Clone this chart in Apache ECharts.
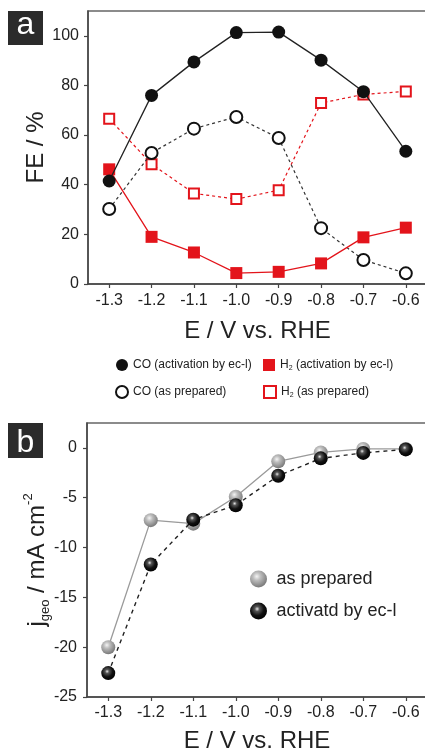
<!DOCTYPE html>
<html>
<head>
<meta charset="utf-8">
<script src="https://cdn.jsdelivr.net/npm/echarts@6/dist/echarts.min.js"></script>
<style>
html,body{margin:0;padding:0;background:#fff;}
#c{width:425px;height:752px;}
</style>
</head>
<body>
<div id="c"></div>
<script>
const xValues = [-1.3, -1.2, -1.1, -1.0, -0.9, -0.8, -0.7, -0.6];
const coActivated = [41.5, 76, 89.5, 101.3, 101.5, 90.2, 77.5, 53.5];
const coPrepared = [30.2, 52.8, 62.6, 67.3, 58.8, 22.5, 9.7, 4.3];
const h2Activated = [46.2, 19, 12.7, 4.4, 4.9, 8.3, 18.8, 22.7];
const h2Prepared = [66.6, 48.3, 36.5, 34.2, 37.8, 72.9, 76.4, 77.6];
const jPrepared = [-20, -7.25, -7.6, -4.9, -1.35, -0.45, -0.1, -0.1];
const jActivated = [-22.6, -11.7, -7.2, -5.75, -2.8, -1.05, -0.5, -0.15];
const xTicks = [-1.3, -1.2, -1.1, -1.0, -0.9, -0.8, -0.7, -0.6];
const feTicks = [0, 20, 40, 60, 80, 100];
const jTicks = [-25, -20, -15, -10, -5, 0];
const jMinorTicks = [-22.5, -17.5, -12.5, -7.5, -2.5];

const FONT = 'Liberation Sans, Arial, Helvetica, sans-serif';
const RED = '#e3141b';
const toPts = arr => xValues.map((x, i) => [x, arr[i]]);

const greySphere = {type:'radial', x:0.4, y:0.35, r:0.65, colorStops:[
  {offset:0, color:'#f4f4f4'}, {offset:0.35, color:'#bdbdbd'}, {offset:1, color:'#7a7a7a'}]};
const blackSphere = {type:'radial', x:0.42, y:0.38, r:0.65, colorStops:[
  {offset:0, color:'#e8e8e8'}, {offset:0.22, color:'#555'}, {offset:0.6, color:'#111'}, {offset:1, color:'#000'}]};

function xAxis(gridIndex, margin, nameGap) {
  return {
    type:'value', gridIndex, min:-1.35, max:-0.55,
    name:'E / V vs. RHE', nameLocation:'middle', nameGap, nameMoveOverlap:false,
    nameTextStyle:{fontFamily:FONT, fontSize:24, color:'#222'},
    axisLine:{show:true, onZero:false, lineStyle:{color:'#444', width:1.5}},
    axisTick:{show:true, inside:false, length:4, customValues:xTicks, lineStyle:{color:'#444', width:1.2}},
    axisLabel:{customValues:xTicks, margin, fontFamily:FONT, fontSize:16, color:'#222',
      formatter: v => v.toFixed(1)},
    splitLine:{show:false}
  };
}

const option = {
  animation:false,
  backgroundColor:'#fff',
  grid:[
    {left:88, top:11, right:-2, bottom:468, outerBoundsMode:'none', show:true, borderColor:'#666', borderWidth:1.5, backgroundColor:'transparent'},
    {left:87, top:423, right:-2, bottom:55, outerBoundsMode:'none', show:true, borderColor:'#666', borderWidth:1.5, backgroundColor:'transparent'}
  ],
  xAxis:[ xAxis(0, 9, 35), xAxis(1, 8, 32) ],
  yAxis:[
    {type:'value', gridIndex:0, min:0, max:110,
      name:'FE / %', nameLocation:'middle', nameGap:40, nameMoveOverlap:false,
      nameTextStyle:{fontFamily:FONT, fontSize:24, color:'#222'},
      axisLine:{show:true, lineStyle:{color:'#444', width:1.5}},
      axisTick:{show:true, length:4, customValues:feTicks, lineStyle:{color:'#444', width:1.2}},
      axisLabel:{customValues:feTicks, margin:9, fontFamily:FONT, fontSize:16, color:'#222'},
      splitLine:{show:false}},
    {type:'value', gridIndex:1, min:-25, max:2.5,
      name:'{n|j}{sub|geo}{n| / mA cm}{sup|-2}', nameLocation:'middle', nameGap:35, nameMoveOverlap:false,
      nameTextStyle:{fontFamily:FONT, fontSize:24, color:'#222', rich:{
        n:{fontFamily:FONT, fontSize:24, color:'#222', lineHeight:30, verticalAlign:'middle'},
        sub:{fontFamily:FONT, fontSize:13, color:'#222', lineHeight:30, verticalAlign:'bottom'},
        sup:{fontFamily:FONT, fontSize:13, color:'#222', lineHeight:30, verticalAlign:'top'}
      }},
      axisLine:{show:true, lineStyle:{color:'#444', width:1.5}},
      axisTick:{show:true, length:4, customValues:jTicks, lineStyle:{color:'#444', width:1.2}},
      axisLabel:{customValues:jTicks, margin:10, fontFamily:FONT, fontSize:16, color:'#222'},
      splitLine:{show:false}},
    {type:'value', gridIndex:1, min:-25, max:2.5,
      axisLine:{show:false},
      axisTick:{show:true, length:3, customValues:jMinorTicks, lineStyle:{color:'#444', width:1.2}},
      axisLabel:{show:false, customValues:jMinorTicks},
      splitLine:{show:false}}
  ],
  legend:[
    {left:116, top:359, padding:0, itemWidth:12, itemHeight:12, itemGap:0,
      textStyle:{fontFamily:FONT, fontSize:12, color:'#222'},
      data:[{name:'CO (activation by ec-l)', icon:'circle', itemStyle:{color:'#111', borderWidth:0}}]},
    {left:263, top:359, padding:0, itemWidth:12, itemHeight:12, itemGap:0,
      textStyle:{fontFamily:FONT, fontSize:12, color:'#222', rich:{
        n:{fontFamily:FONT, fontSize:12, color:'#222'},
        s:{fontFamily:FONT, fontSize:7, color:'#222', verticalAlign:'bottom', lineHeight:14}}},
      formatter: name => '{n|H}{s|2}{n|' + name.slice(2) + '}',
      data:[{name:'H2 (activation by ec-l)', icon:'rect', itemStyle:{color:RED, borderWidth:0}}]},
    {left:115, top:385, padding:0, itemWidth:12, itemHeight:12, itemGap:0,
      textStyle:{fontFamily:FONT, fontSize:12, color:'#222'},
      data:[{name:'CO (as prepared)', icon:'circle', itemStyle:{color:'#fff', borderColor:'#111', borderWidth:2}}]},
    {left:263, top:385, padding:0, itemWidth:12, itemHeight:12, itemGap:0,
      textStyle:{fontFamily:FONT, fontSize:12, color:'#222', rich:{
        n:{fontFamily:FONT, fontSize:12, color:'#222'},
        s:{fontFamily:FONT, fontSize:7, color:'#222', verticalAlign:'bottom', lineHeight:14}}},
      formatter: name => '{n|H}{s|2}{n|' + name.slice(2) + '}',
      data:[{name:'H2 (as prepared)', icon:'rect', itemStyle:{color:'#fff', borderColor:RED, borderWidth:2}}]},
    {left:250, top:570, padding:0, itemWidth:26, itemHeight:17, itemGap:0,
      textStyle:{fontFamily:FONT, fontSize:18, color:'#222'},
      data:[{name:'as prepared', icon:'circle'}]},
    {left:250, top:602, padding:0, itemWidth:26, itemHeight:17, itemGap:0,
      textStyle:{fontFamily:FONT, fontSize:18, color:'#222'},
      data:[{name:'activatd by ec-l', icon:'circle'}]}
  ],
  graphic:[
    {type:'rect', left:8, top:11, shape:{width:35, height:34}, style:{fill:'#2b2b2b'}},
    {type:'text', x:25.5, y:25, style:{text:'a', fill:'#fff', font:'32px ' + FONT, textAlign:'center', textVerticalAlign:'middle'}},
    {type:'rect', left:8, top:423, shape:{width:35, height:35}, style:{fill:'#2b2b2b'}},
    {type:'text', x:25.5, y:443, style:{text:'b', fill:'#fff', font:'32px ' + FONT, textAlign:'center', textVerticalAlign:'middle'}}
  ],
  series:[
    {name:'H2 (as prepared)', type:'line', xAxisIndex:0, yAxisIndex:0, data:toPts(h2Prepared),
      symbol:'rect', symbolSize:10, z:2,
      lineStyle:{color:RED, width:1.2, type:[3,3]},
      itemStyle:{color:'#fff', borderColor:RED, borderWidth:2}},
    {name:'CO (as prepared)', type:'line', xAxisIndex:0, yAxisIndex:0, data:toPts(coPrepared),
      symbol:'circle', symbolSize:12, z:3,
      lineStyle:{color:'#333', width:1.2, type:[3,3]},
      itemStyle:{color:'#fff', borderColor:'#111', borderWidth:2}},
    {name:'H2 (activation by ec-l)', type:'line', xAxisIndex:0, yAxisIndex:0, data:toPts(h2Activated),
      symbol:'rect', symbolSize:12, z:4,
      lineStyle:{color:RED, width:1.3},
      itemStyle:{color:RED, borderWidth:0}},
    {name:'CO (activation by ec-l)', type:'line', xAxisIndex:0, yAxisIndex:0, data:toPts(coActivated),
      symbol:'circle', symbolSize:13, z:5,
      lineStyle:{color:'#222', width:1.3},
      itemStyle:{color:'#111', borderWidth:0}},
    {name:'as prepared', type:'line', xAxisIndex:1, yAxisIndex:1, data:toPts(jPrepared),
      symbol:'circle', symbolSize:14, z:3,
      lineStyle:{color:'#9a9a9a', width:1.3},
      itemStyle:{color:greySphere, borderWidth:0}},
    {name:'activatd by ec-l', type:'line', xAxisIndex:1, yAxisIndex:1, data:toPts(jActivated),
      symbol:'circle', symbolSize:14, z:4,
      lineStyle:{color:'#222', width:1.4, type:[4,4]},
      itemStyle:{color:blackSphere, borderWidth:0}}
  ]
};
const chart = echarts.init(document.getElementById('c'), null, {renderer:'canvas'});
chart.setOption(option);
</script>
</body>
</html>
